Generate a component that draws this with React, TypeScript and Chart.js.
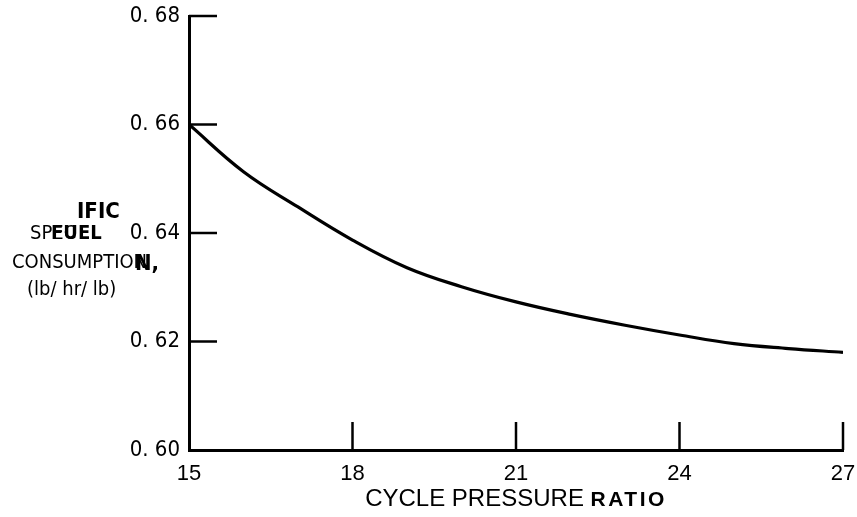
import React, { useEffect, useRef } from "react";
import { Chart, registerables } from "chart.js";

Chart.register(...registerables);

const pressureRatio = [15, 16, 17, 18, 19, 20, 21, 22, 23, 24, 25, 26, 27];
const fuelConsumption = [0.66, 0.6513, 0.6448, 0.6387, 0.6336, 0.6301, 0.6273, 0.625, 0.623, 0.6212, 0.6196, 0.6187, 0.618];
const xTickValues = [15, 18, 21, 24, 27];
const yTickValues = [0.6, 0.62, 0.64, 0.66, 0.68];
const xTitleNormal = "CYCLE PRESSURE ";
const xTitleBold = "RATIO";

const NARROW = '"DejaVu Sans Condensed", "Liberation Sans", sans-serif';
const SANS = '"Liberation Sans", Arial, sans-serif';

const decorPlugin = {
  id: "decor",
  afterDraw(chart: any) {
    const ctx = chart.ctx as CanvasRenderingContext2D;
    const xs = chart.scales.x;
    const ys = chart.scales.y;
    const ca = chart.chartArea;
    ctx.save();
    ctx.strokeStyle = "#000";
    ctx.lineWidth = 2.5;
    const tickLen = 28;
    xTickValues.forEach((v) => {
      if (v === xs.min) return;
      const px = xs.getPixelForValue(v);
      ctx.beginPath();
      ctx.moveTo(px, ca.bottom);
      ctx.lineTo(px, ca.bottom - tickLen);
      ctx.stroke();
    });
    yTickValues.forEach((v) => {
      if (v === ys.min) return;
      const py = ys.getPixelForValue(v);
      ctx.beginPath();
      ctx.moveTo(ca.left, py);
      ctx.lineTo(ca.left + tickLen, py);
      ctx.stroke();
    });

    // x axis title (mixed weight)
    ctx.fillStyle = "#000";
    ctx.textBaseline = "middle";
    ctx.textAlign = "left";
    const c2 = ctx as any;
    ctx.font = `24px ${SANS}`;
    c2.letterSpacing = "0px";
    const w1 = ctx.measureText(xTitleNormal).width;
    ctx.font = `bold 21px ${SANS}`;
    c2.letterSpacing = "2.5px";
    const w2 = ctx.measureText(xTitleBold).width;
    c2.letterSpacing = "0px";
    const cx = (ca.left + ca.right) / 2;
    const start = cx - (w1 + w2) / 2;
    const ty = ca.bottom + 49;
    ctx.font = `24px ${SANS}`;
    ctx.fillText(xTitleNormal, start, ty);
    ctx.font = `bold 21px ${SANS}`;
    c2.letterSpacing = "2.5px";
    ctx.fillText(xTitleBold, start + w1, ty + 1);
    c2.letterSpacing = "0px";

    // y axis title (overlapping scan text as in the reference)
    const l = ca.left;
    ctx.font = `bold 22px ${NARROW}`;
    ctx.fillText("IFIC", l - 112, 212);
    ctx.font = `20px ${NARROW}`;
    ctx.fillText("SPEC", l - 159, 234);
    ctx.font = `bold 20px ${NARROW}`;
    ctx.fillText("FUEL", l - 138, 234);
    ctx.font = `20px ${NARROW}`;
    ctx.fillText("CONSUMPTION", l - 177, 263);
    ctx.font = `bold 22px ${NARROW}`;
    ctx.fillText("N,", l - 54, 264);
    ctx.font = `20px ${NARROW}`;
    ctx.fillText("(lb/ hr/ lb)", l - 162, 290);
    ctx.restore();
  },
};

export default function App() {
  const ref = useRef<HTMLCanvasElement | null>(null);
  useEffect(() => {
    document.body.style.margin = "0";
    if (!ref.current) return;
    const chart = new Chart(ref.current, {
      type: "line",
      data: {
        datasets: [
          {
            data: pressureRatio.map((x, i) => ({ x, y: fuelConsumption[i] })),
            borderColor: "#000",
            borderWidth: 3.2,
            pointRadius: 0,
            tension: 0.4,
            fill: false,
          },
        ],
      },
      options: {
        animation: false,
        responsive: false,
        maintainAspectRatio: false,
        layout: { padding: { top: 16, right: 14, left: 0, bottom: 0 } },
        plugins: { legend: { display: false }, tooltip: { enabled: false }, title: { display: false } },
        scales: {
          x: {
            type: "linear",
            min: 15,
            max: 27,
            afterBuildTicks: (scale: any) => {
              scale.ticks = xTickValues.map((v) => ({ value: v }));
            },
            afterFit: (scale: any) => {
              scale.height = 67;
              scale.paddingLeft = 0;
              scale.paddingRight = 0;
            },
            grid: { display: false, drawTicks: false },
            border: { display: true, color: "#000", width: 3 },
            ticks: {
              color: "#000",
              padding: 11,
              maxRotation: 0,
              font: { family: SANS, size: 22 },
              callback: (v: any) => String(v),
            },
          },
          y: {
            type: "linear",
            min: 0.6,
            max: 0.68,
            afterBuildTicks: (scale: any) => {
              scale.ticks = yTickValues.map((v) => ({ value: v }));
            },
            afterFit: (scale: any) => {
              scale.width = 189;
              scale.paddingTop = 0;
              scale.paddingBottom = 0;
            },
            grid: { display: false, drawTicks: false },
            border: { display: true, color: "#000", width: 3 },
            ticks: {
              color: "#000",
              padding: 9,
              font: { family: NARROW, size: 22 },
              callback: (v: any) => Number(v).toFixed(2).replace(".", ". "),
            },
          },
        },
      },
      plugins: [decorPlugin],
    } as any);
    return () => chart.destroy();
  }, []);
  return (
    <div style={{ position: "absolute", left: 0, top: 0, width: 857, height: 517, background: "#fff" }}>
      <canvas ref={ref} width={857} height={517} style={{ width: 857, height: 517 }} />
    </div>
  );
}
